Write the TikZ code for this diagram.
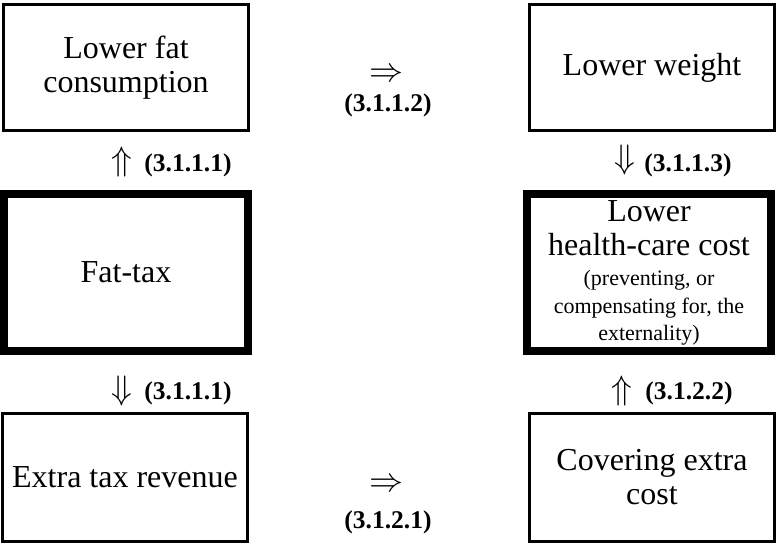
\RequirePackage{fix-cm}
\documentclass[tikz,border=0pt]{standalone}
\usepackage{fontspec}
\setmainfont{Liberation Serif}
\usepackage{tikz}

\tikzset{
  box/.style={draw, line width=3pt, minimum width=245pt, inner sep=2pt, align=center,
    font=\fontsize{32}{34}\selectfont},
  mainbox/.style={box, line width=8pt, minimum width=244pt},
  tag/.style={inner sep=0pt, font=\fontsize{25.5}{27}\selectfont\bfseries},
  sign/.style={inner sep=0pt, font=\fontsize{34}{34}\selectfont}
}
\newcommand{\smalltext}{\fontsize{22}{25}\selectfont}

\begin{document}
\begin{tikzpicture}[x=1pt,y=-1pt]
\useasboundingbox (0,0) rectangle (781,545);
% left column
\node[box, minimum height=126pt] (fat) at (126,67.5) {Lower fat\\consumption};
\node[mainbox, minimum height=157pt] (tax) at (126,272.5) {Fat-tax};
\node[box, minimum height=128pt] (revenue) at (125,477.5) {Extra tax revenue};
% right column
\node[box, minimum height=126pt] (weight) at (652,67.5) {Lower weight};
\node[mainbox, minimum height=157pt] (health) at (649,272.5)
  {Lower\\health-care cost\\[-4pt]\smalltext (preventing, or\\[-6pt]\smalltext compensating for, the\\[-7pt]\smalltext externality)};
\node[box, minimum height=128pt] (cover) at (652,477.5) {Covering extra\\cost};
% vertical signs
\node[sign] (up1) at (122,162) {$\Uparrow$};
\node[tag] (up1tag) at (188,165) {(3.1.1.1)};
\node[sign] (down1) at (122,391) {$\Downarrow$};
\node[tag] (down1tag) at (188,393) {(3.1.1.1)};
\node[sign] (down3) at (625,160) {$\Downarrow$};
\node[tag] (down3tag) at (688,165) {(3.1.1.3)};
\node[sign] (up2) at (622,391) {$\Uparrow$};
\node[tag] (up2tag) at (689,393) {(3.1.2.2)};
% horizontal signs
\node[sign] (right2) at (386,75) {$\Rightarrow$};
\node[tag] (right2tag) at (388,105) {(3.1.1.2)};
\node[sign] (right1) at (386,485) {$\Rightarrow$};
\node[tag] (right1tag) at (388,522) {(3.1.2.1)};
\end{tikzpicture}
\end{document}
